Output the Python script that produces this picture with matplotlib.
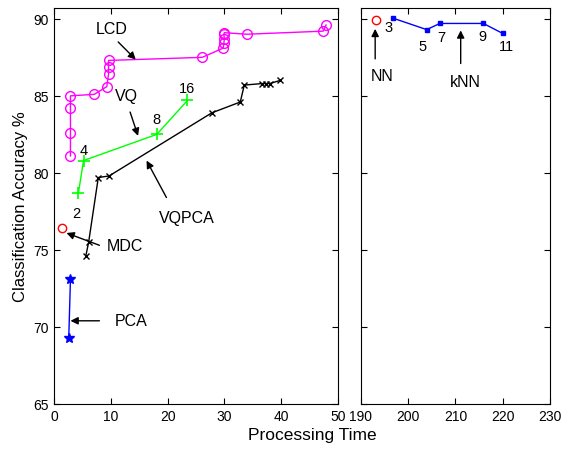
import matplotlib
matplotlib.use("Agg")
import matplotlib.pyplot as plt

plt.rcParams['font.family'] = ['Liberation Sans', 'DejaVu Sans']

# LCD (magenta circles)
lcd_x = [2.9, 2.9, 2.9, 2.9, 7.1, 9.3, 9.6, 9.6, 9.6, 26.1,
         29.8, 29.9, 30.0, 29.9, 30.0, 34.0, 47.4, 47.9]
lcd_y = [81.1, 82.6, 84.2, 85.0, 85.1, 85.6, 86.4, 86.9, 87.3, 87.5,
         88.1, 88.4, 88.7, 89.0, 89.1, 89.0, 89.2, 89.6]

# VQ (green plus), codebook sizes
vq_x = [4.3, 5.2, 18.1, 23.5]
vq_y = [78.7, 80.8, 82.5, 84.7]
vq_labels = ['2', '4', '8', '16']

# VQPCA (black x)
vqpca_x = [5.6, 6.1, 7.8, 9.7, 27.8, 32.8, 33.5, 36.7, 37.4, 38.0, 39.8]
vqpca_y = [74.6, 75.5, 79.7, 79.8, 83.9, 84.6, 85.7, 85.8, 85.8, 85.8, 86.0]

# MDC (red circle)
mdc_x = [1.35]
mdc_y = [76.4]

# PCA (blue stars)
pca_x = [2.9, 2.6]
pca_y = [73.1, 69.3]

# NN and kNN (right panel)
nn_x = [193.1]
nn_y = [89.9]
knn_x = [196.7, 203.9, 206.7, 215.9, 220.0]
knn_y = [90.05, 89.3, 89.7, 89.7, 89.05]
knn_labels = ['3', '5', '7', '9', '11']

fig = plt.figure(figsize=(5.63, 4.52), dpi=100)
ax1 = fig.add_axes([0.0959, 0.104, 0.5044, 0.876])
ax2 = fig.add_axes([0.6412, 0.104, 0.3357, 0.876])

arrow = dict(arrowstyle='-|>', color='k', lw=1, mutation_scale=11, shrinkA=0, shrinkB=0)
tfs = 11.5

ax1.plot(lcd_x, lcd_y, '-o', color='#ff00ff', mfc='none', ms=7, lw=1)
ax1.plot(vq_x, vq_y, '-+', color='#00ff00', ms=9, mew=1.2, lw=1)
ax1.plot(vqpca_x, vqpca_y, '-x', color='k', ms=4, lw=1)
ax1.plot(mdc_x, mdc_y, 'o', color='red', mfc='none', ms=6)
ax1.plot(pca_x, pca_y, '-*', color='blue', ms=7, lw=1)

lab_pos = [(4.0, 77.4), (5.2, 81.5), (18.0, 83.5), (23.5, 85.5)]
for t, (x, y) in zip(vq_labels, lab_pos):
    ax1.text(x, y, t, fontsize=10.5, ha='center', va='center')

ax1.annotate('', xy=(14.4, 87.35), xytext=(11.3, 88.5), arrowprops=arrow)
ax1.text(10.2, 89.35, 'LCD', fontsize=tfs, ha='center', va='center')
ax1.annotate('', xy=(14.8, 82.4), xytext=(13.4, 83.95), arrowprops=arrow)
ax1.text(12.7, 85.0, 'VQ', fontsize=tfs, ha='center', va='center')
ax1.annotate('', xy=(16.3, 80.8), xytext=(19.8, 78.4), arrowprops=arrow)
ax1.text(23.4, 77.1, 'VQPCA', fontsize=tfs, ha='center', va='center')
ax1.annotate('', xy=(2.2, 76.1), xytext=(8.0, 75.3), arrowprops=arrow)
ax1.text(12.5, 75.3, 'MDC', fontsize=tfs, ha='center', va='center')
ax1.annotate('', xy=(2.9, 70.4), xytext=(8.0, 70.4), arrowprops=arrow)
ax1.text(13.6, 70.4, 'PCA', fontsize=tfs, ha='center', va='center')

ax2.plot(nn_x, nn_y, 'o', color='red', mfc='none', ms=6)
ax2.plot(knn_x, knn_y, '-s', color='blue', ms=2.5, lw=1)
knn_lab_pos = [(195.8, 89.45), (203.0, 88.25), (206.9, 88.8), (215.7, 88.9), (220.7, 88.25)]
for t, (x, y) in zip(knn_labels, knn_lab_pos):
    ax2.text(x, y, t, fontsize=10.5, ha='center', va='center')
ax2.annotate('', xy=(193.0, 89.35), xytext=(193.0, 87.4), arrowprops=arrow)
ax2.text(194.4, 86.3, 'NN', fontsize=tfs, ha='center', va='center')
ax2.annotate('', xy=(211.1, 89.25), xytext=(211.1, 87.1), arrowprops=arrow)
ax2.text(212.0, 85.9, 'kNN', fontsize=tfs, ha='center', va='center')

ax1.set_xlim(0, 50)
ax2.set_xlim(190, 230)
for ax in (ax1, ax2):
    ax.set_ylim(65, 90.7)
    ax.set_yticks([65, 70, 75, 80, 85, 90])
    ax.tick_params(direction='in', top=True, right=True, labelsize=10, length=4, width=0.8)
ax1.set_xticks([0, 10, 20, 30, 40, 50])
ax2.set_xticks([190, 200, 210, 220, 230])
ax2.set_yticklabels([])
ax1.set_ylabel('Classification Accuracy %', fontsize=12)
fig.text(0.555, 0.02, 'Processing Time', fontsize=12.5, ha='center', va='bottom')

fig.savefig('out.png', dpi=100)
